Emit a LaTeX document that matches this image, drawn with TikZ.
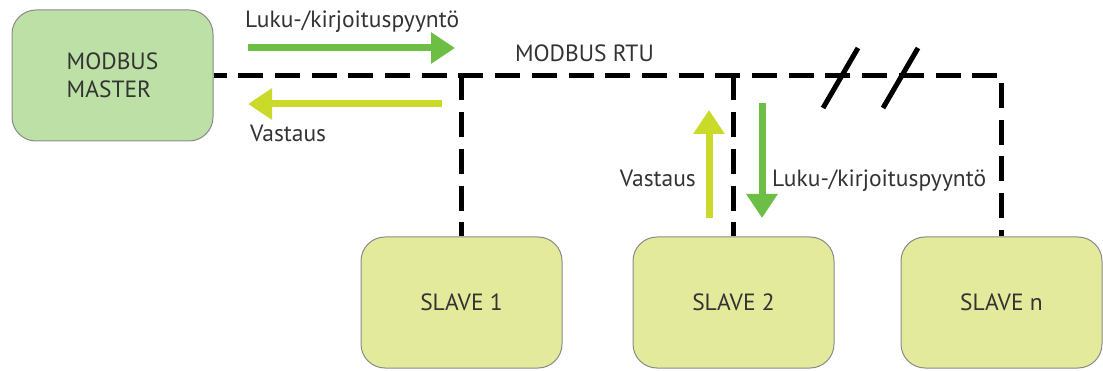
\documentclass[tikz,border=0pt]{standalone}
\usepackage{fontspec}
\setmainfont{PT Sans}
\usetikzlibrary{arrows.meta}
\definecolor{masterfill}{HTML}{BCE0A5}
\definecolor{slavefill}{HTML}{E3EA9B}
\definecolor{boxline}{HTML}{8A8A8A}
\definecolor{reqgreen}{HTML}{6DBE45}
\definecolor{reslime}{HTML}{C9DA2A}
\definecolor{txt}{HTML}{333333}
\tikzset{
  unitbox/.style={draw=boxline, line width=1pt, rounded corners=24pt, text=txt,
    font=\fontsize{23.5}{28}\selectfont, inner sep=0pt},
  masterbox/.style={unitbox, fill=masterfill, minimum width=201pt, minimum height=131pt, align=left},
  slavebox/.style={unitbox, fill=slavefill, minimum width=201pt, minimum height=131pt},
  bus/.style={draw=black, line width=5.5pt, dash pattern=on 25pt off 11.7pt, dash phase=12pt},
  breakmark/.style={draw=black, line width=5pt},
  lbl/.style={text=txt, font=\fontsize{23.5}{28}\selectfont, inner sep=0pt},
  reqarrow/.style={draw=reqgreen, line width=7pt, -{Triangle[width=30pt,length=24pt]}},
  resarrow/.style={draw=reslime, line width=7pt, -{Triangle[width=30pt,length=24pt]}},
}
\begin{document}
\begin{tikzpicture}[x=1pt,y=-1pt]
\useasboundingbox (0,0) rectangle (1103,371);
% nodes
\node[masterbox] (master) at (112.5,75.5) {MODBUS\\MASTER};
\node[slavebox] (s1) at (461.5,302.5) {SLAVE 1};
\node[slavebox] (s2) at (733.5,302.5) {SLAVE 2};
\node[slavebox] (sn) at (1001.5,302.5) {SLAVE n};
% bus
\coordinate (busend) at (sn.north |- master.east);
\draw[bus] (master.east) -- (busend) -- (sn.north);
\draw[bus, dash phase=0pt] (s1.north |- master.east) -- (s1.north);
\draw[bus, dash phase=0pt] (s2.north |- master.east) -- (s2.north);
% break marks
\coordinate (b1a) at (823,108); \coordinate (b1b) at (858,48);
\coordinate (b2a) at (883,108); \coordinate (b2b) at (918,48);
\draw[breakmark] (b1a) -- (b1b);
\draw[breakmark] (b2a) -- (b2b);
% labels
\node[lbl, anchor=base east] (rtu) at (654,62) {MODBUS RTU};
\node[lbl, anchor=base west] (req1) at (245,28) {Luku-/kirjoituspyyntö};
\node[lbl, anchor=base west] (res1) at (250,142) {Vastaus};
\node[lbl, anchor=base east] (res2) at (696,187) {Vastaus};
\node[lbl, anchor=base west] (req2) at (772,187) {Luku-/kirjoituspyyntö};
% master arrows
\coordinate (r1s) at (248,48); \coordinate (r1e) at (455,48);
\coordinate (v1s) at (442,104); \coordinate (v1e) at (248,104);
\draw[reqarrow] (r1s) -- (r1e);
\draw[resarrow] (v1s) -- (v1e);
% slave 2 arrows
\coordinate (v2s) at (709,218); \coordinate (v2e) at (709,110);
\coordinate (r2s) at (762,103); \coordinate (r2e) at (762,218);
\draw[resarrow] (v2s) -- (v2e);
\draw[reqarrow] (r2s) -- (r2e);
\end{tikzpicture}
\end{document}
